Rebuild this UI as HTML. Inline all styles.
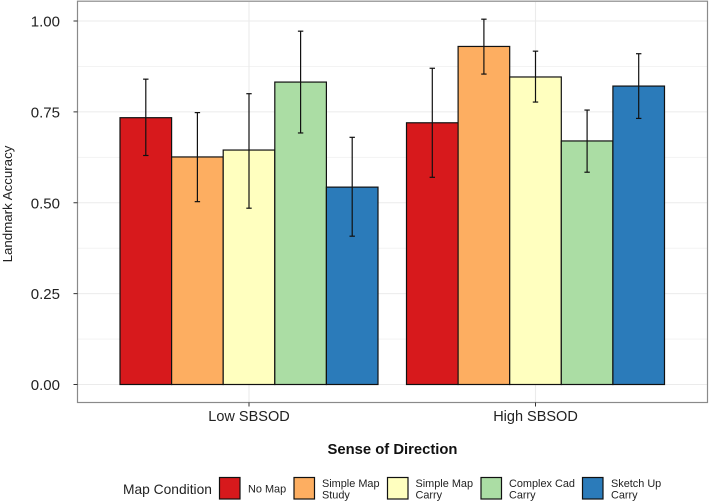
<!DOCTYPE html>
<html>
<head>
<meta charset="utf-8">
<title>Landmark Accuracy Chart</title>
<style>
html,body{margin:0;padding:0;background:#fff;}
svg{display:block;font-family:"Liberation Sans",Arial,sans-serif;}
</style>
</head>
<body>
<svg id="chart" width="709" height="502" viewBox="0 0 709 502" xmlns="http://www.w3.org/2000/svg">
<rect x="0" y="0" width="709" height="502" fill="#fff"/>
<g id="grid"></g>
<g id="bars"></g>
<g id="errors"></g>
<rect x="77.5" y="1.2" width="630" height="401.3" fill="none" stroke="#8a8a8a" stroke-width="1.2"/>
<g id="yaxis"></g>
<g id="xaxis"></g>
<text transform="translate(12,204) rotate(-90)" text-anchor="middle" font-size="13.3" fill="#222">Landmark Accuracy</text>
<text x="392.5" y="454" text-anchor="middle" font-size="14.8" font-weight="bold" fill="#111">Sense of Direction</text>
<g id="legend" font-size="10.9" fill="#222">
<text x="123" y="494" font-size="13.8">Map Condition</text>
<g>
<rect x="219.5" y="477.5" width="20.5" height="21.5" fill="#d7191c" stroke="#111" stroke-width="1.2"/>
<text x="248" y="492.5">No Map</text>
</g>
<g>
<rect x="294" y="477.5" width="20.5" height="21.5" fill="#fdae61" stroke="#111" stroke-width="1.2"/>
<text x="322" y="487">Simple Map</text>
<text x="322" y="498.5">Study</text>
</g>
<g>
<rect x="387.5" y="477.5" width="20.5" height="21.5" fill="#ffffbf" stroke="#111" stroke-width="1.2"/>
<text x="415.5" y="487">Simple Map</text>
<text x="415.5" y="498.5">Carry</text>
</g>
<g>
<rect x="481" y="477.5" width="20.5" height="21.5" fill="#abdda4" stroke="#111" stroke-width="1.2"/>
<text x="509" y="487">Complex Cad</text>
<text x="509" y="498.5">Carry</text>
</g>
<g>
<rect x="582.5" y="477.5" width="20.5" height="21.5" fill="#2b7bba" stroke="#111" stroke-width="1.2"/>
<text x="611" y="487">Sketch Up</text>
<text x="611" y="498.5">Carry</text>
</g>
</g>
</svg>
<script>
const groups = ["Low SBSOD", "High SBSOD"];
const conditions = ["No Map", "Simple Map Study", "Simple Map Carry", "Complex Cad Carry", "Sketch Up Carry"];
const lowValues = [0.734, 0.626, 0.645, 0.832, 0.543];
const highValues = [0.720, 0.930, 0.846, 0.670, 0.821];
const lowUpper = [0.840, 0.748, 0.800, 0.972, 0.680];
const lowLower = [0.630, 0.503, 0.485, 0.692, 0.408];
const highUpper = [0.870, 1.005, 0.917, 0.755, 0.910];
const highLower = [0.570, 0.854, 0.777, 0.584, 0.732];
const yTicks = ["0.00", "0.25", "0.50", "0.75", "1.00"];
const yMinorTicks = [0.125, 0.375, 0.625, 0.875];
const colors = ["#d7191c", "#fdae61", "#ffffbf", "#abdda4", "#2b7bba"];

const NS = "http://www.w3.org/2000/svg";
const yScale = v => 384.5 - v * 363.5;
const xScale = i => 249 + i * 286.5;
const barWidth = 51.6;
function mk(tag, parent, attrs, text) {
  const el = document.createElementNS(NS, tag);
  for (const k in attrs) el.setAttribute(k, attrs[k]);
  if (text !== undefined) el.textContent = text;
  document.getElementById(parent).appendChild(el);
  return el;
}
const valueSets = [lowValues, highValues];
const upperSets = [lowUpper, highUpper];
const lowerSets = [lowLower, highLower];

yMinorTicks.forEach(v => {
  const el = mk("line", "grid", {x1: 78, x2: 707, y1: yScale(v), y2: yScale(v), stroke: "#f3f3f3", "stroke-width": 1});
  
  
});
yTicks.forEach(t => {
  const y = yScale(parseFloat(t));
  const el = mk("line", "grid", {x1: 78, x2: 707, y1: y, y2: y, stroke: "#ebebeb", "stroke-width": 1.1});
  
  
  const tick = mk("line", "yaxis", {x1: 73.5, x2: 77.5, y1: y, y2: y, stroke: "#333", "stroke-width": 1});
  
  
  const label = mk("text", "yaxis", {x: 60, y: y + 5.5, "text-anchor": "end", "font-size": 15, fill: "#222"}, t);
  
  
});
groups.forEach((g, gi) => {
  const cx = xScale(gi);
  const gl = mk("line", "grid", {x1: cx, x2: cx, y1: 2, y2: 402, stroke: "#ebebeb", "stroke-width": 1.1});
  
  
  const tick = mk("line", "xaxis", {x1: cx, x2: cx, y1: 402.5, y2: 406.5, stroke: "#333", "stroke-width": 1});
  
  
  const label = mk("text", "xaxis", {x: cx, y: 421, "text-anchor": "middle", "font-size": 14.5, fill: "#222"}, g);
  
  
  conditions.forEach((c, ci) => {
    const left = cx + (ci - 2.5) * barWidth;
    const bc = left + barWidth / 2;
    const top = yScale(valueSets[gi][ci]);
    const bar = mk("rect", "bars", {x: left, y: top, width: barWidth, height: yScale(0) - top, fill: colors[ci], stroke: "#111", "stroke-width": 1.2});
    
    
    const yu = yScale(upperSets[gi][ci]);
    const yl = yScale(lowerSets[gi][ci]);
    const stem = mk("line", "errors", {x1: bc, x2: bc, y1: yu, y2: yl, stroke: "#111", "stroke-width": 1.2});
    
    
    [yu, yl].forEach(y => {
      const cap = mk("line", "errors", {x1: bc - 2.7, x2: bc + 2.7, y1: y, y2: y, stroke: "#111", "stroke-width": 1.2});
      
      
    });
  });
});
</script>
</body>
</html>
